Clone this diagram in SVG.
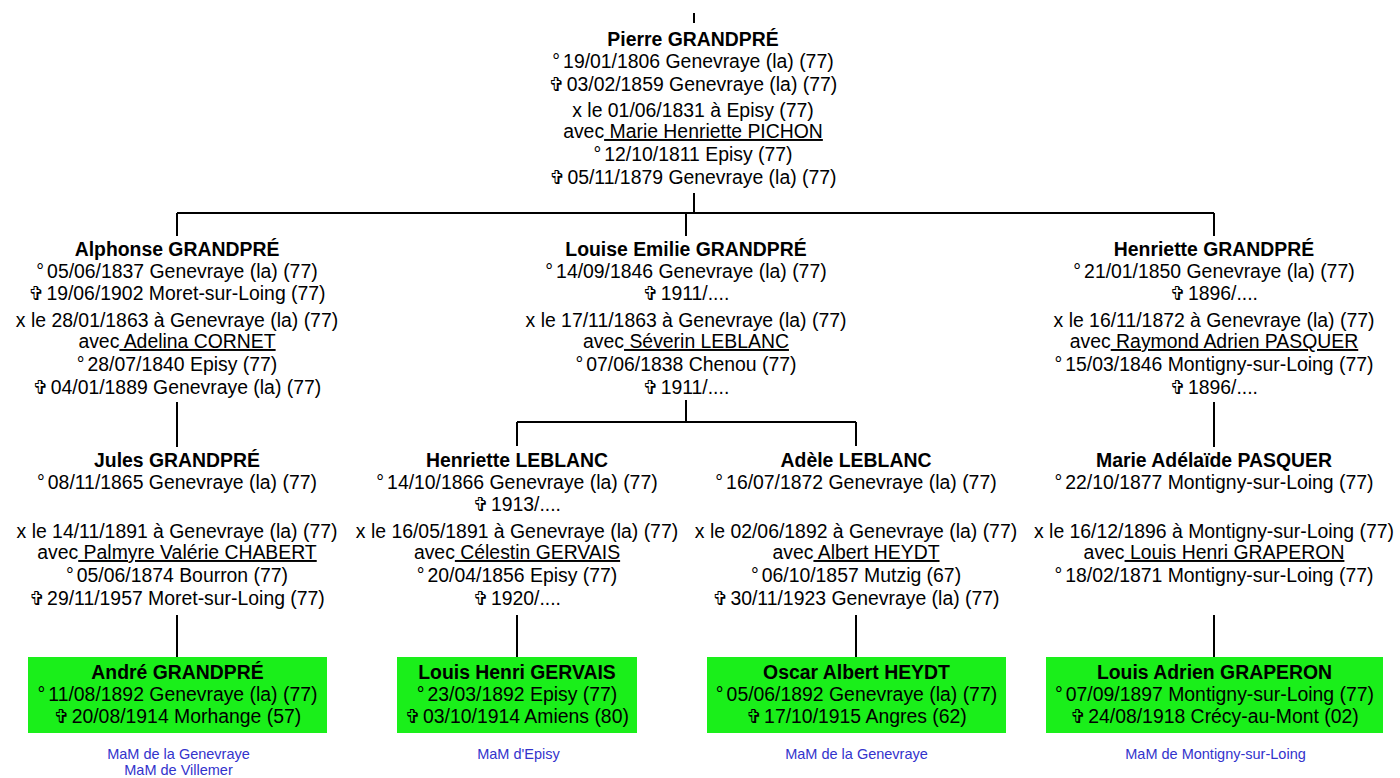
<svg xmlns="http://www.w3.org/2000/svg" width="1400" height="778" viewBox="0 0 1400 778">
<style>
.t{font-family:"Liberation Sans",Arial,"DejaVu Sans",sans-serif;font-size:19.4px;text-anchor:middle;fill:#000}
.b{font-weight:bold}
.c{font-family:"DejaVu Sans",sans-serif;font-size:19px}
.u{text-decoration:underline}
.m{font-family:"Liberation Sans",Arial,sans-serif;font-size:14.5px;text-anchor:middle;fill:#3333cc}
.box{fill:#1aef1a}
.ln{stroke:#000;stroke-width:2;fill:none}
</style>
<rect width="1400" height="778" fill="#fff"/>
<g id="connectors" class="ln">
<path d="M694 13V23M694 193V213M177 213H1214M177 213V236M686 213V236M1214 213V236"/>
<path d="M177 402V447M1214 402V447M686 400V422M517 422H856M517 422V446M856 422V446"/>
<path d="M177 615V657M517 615V657M856 615V657M1214 615V657"/>
</g>
<g id="pierre" class="t">
<text x="693" y="46" class="b">Pierre GRANDPRÉ</text>
<text x="693" y="68">°<tspan dx="3">19/01/1806 Genevraye (la) (77)</tspan></text>
<text x="693" y="91"><tspan class="c">✞</tspan><tspan dx="2">03/02/1859 Genevraye (la) (77)</tspan></text>
<text x="693" y="117">x le 01/06/1831 à Episy (77)</text>
<text x="693" y="138">avec<tspan class="u"> Marie Henriette PICHON</tspan></text>
<text x="693" y="161">°<tspan dx="3">12/10/1811 Episy (77)</tspan></text>
<text x="693" y="184"><tspan class="c">✞</tspan><tspan dx="2">05/11/1879 Genevraye (la) (77)</tspan></text>
</g>
<g id="alphonse" class="t">
<text x="177" y="256" class="b">Alphonse GRANDPRÉ</text>
<text x="177" y="278">°<tspan dx="3">05/06/1837 Genevraye (la) (77)</tspan></text>
<text x="177" y="300"><tspan class="c">✞</tspan><tspan dx="2">19/06/1902 Moret-sur-Loing (77)</tspan></text>
<text x="177" y="327">x le 28/01/1863 à Genevraye (la) (77)</text>
<text x="177" y="348">avec<tspan class="u"> Adelina CORNET</tspan></text>
<text x="177" y="371">°<tspan dx="3">28/07/1840 Episy (77)</tspan></text>
<text x="177" y="394"><tspan class="c">✞</tspan><tspan dx="2">04/01/1889 Genevraye (la) (77)</tspan></text>
</g>
<g id="louise" class="t">
<text x="686" y="256" class="b">Louise Emilie GRANDPRÉ</text>
<text x="686" y="278">°<tspan dx="3">14/09/1846 Genevraye (la) (77)</tspan></text>
<text x="686" y="300"><tspan class="c">✞</tspan><tspan dx="2">1911/....</tspan></text>
<text x="686" y="327">x le 17/11/1863 à Genevraye (la) (77)</text>
<text x="686" y="348">avec<tspan class="u"> Séverin LEBLANC</tspan></text>
<text x="686" y="371">°<tspan dx="3">07/06/1838 Chenou (77)</tspan></text>
<text x="686" y="394"><tspan class="c">✞</tspan><tspan dx="2">1911/....</tspan></text>
</g>
<g id="henriette-g" class="t">
<text x="1214" y="256" class="b">Henriette GRANDPRÉ</text>
<text x="1214" y="278">°<tspan dx="3">21/01/1850 Genevraye (la) (77)</tspan></text>
<text x="1214" y="300"><tspan class="c">✞</tspan><tspan dx="2">1896/....</tspan></text>
<text x="1214" y="327">x le 16/11/1872 à Genevraye (la) (77)</text>
<text x="1214" y="348">avec<tspan class="u"> Raymond Adrien PASQUER</tspan></text>
<text x="1214" y="371">°<tspan dx="3">15/03/1846 Montigny-sur-Loing (77)</tspan></text>
<text x="1214" y="394"><tspan class="c">✞</tspan><tspan dx="2">1896/....</tspan></text>
</g>
<g id="jules" class="t">
<text x="177" y="467" class="b">Jules GRANDPRÉ</text>
<text x="177" y="489">°<tspan dx="3">08/11/1865 Genevraye (la) (77)</tspan></text>
<text x="177" y="538">x le 14/11/1891 à Genevraye (la) (77)</text>
<text x="177" y="559">avec<tspan class="u"> Palmyre Valérie CHABERT</tspan></text>
<text x="177" y="582">°<tspan dx="3">05/06/1874 Bourron (77)</tspan></text>
<text x="177" y="605"><tspan class="c">✞</tspan><tspan dx="2">29/11/1957 Moret-sur-Loing (77)</tspan></text>
</g>
<g id="henriette-l" class="t">
<text x="517" y="467" class="b">Henriette LEBLANC</text>
<text x="517" y="489">°<tspan dx="3">14/10/1866 Genevraye (la) (77)</tspan></text>
<text x="517" y="511"><tspan class="c">✞</tspan><tspan dx="2">1913/....</tspan></text>
<text x="517" y="538">x le 16/05/1891 à Genevraye (la) (77)</text>
<text x="517" y="559">avec<tspan class="u"> Célestin GERVAIS</tspan></text>
<text x="517" y="582">°<tspan dx="3">20/04/1856 Episy (77)</tspan></text>
<text x="517" y="605"><tspan class="c">✞</tspan><tspan dx="2">1920/....</tspan></text>
</g>
<g id="adele" class="t">
<text x="856" y="467" class="b">Adèle LEBLANC</text>
<text x="856" y="489">°<tspan dx="3">16/07/1872 Genevraye (la) (77)</tspan></text>
<text x="856" y="538">x le 02/06/1892 à Genevraye (la) (77)</text>
<text x="856" y="559">avec<tspan class="u"> Albert HEYDT</tspan></text>
<text x="856" y="582">°<tspan dx="3">06/10/1857 Mutzig (67)</tspan></text>
<text x="856" y="605"><tspan class="c">✞</tspan><tspan dx="2">30/11/1923 Genevraye (la) (77)</tspan></text>
</g>
<g id="marie-adelaide" class="t">
<text x="1214" y="467" class="b">Marie Adélaïde PASQUER</text>
<text x="1214" y="489">°<tspan dx="3">22/10/1877 Montigny-sur-Loing (77)</tspan></text>
<text x="1214" y="538">x le 16/12/1896 à Montigny-sur-Loing (77)</text>
<text x="1214" y="559">avec<tspan class="u"> Louis Henri GRAPERON</tspan></text>
<text x="1214" y="582">°<tspan dx="3">18/02/1871 Montigny-sur-Loing (77)</tspan></text>
</g>
<g id="andre" class="t">
<rect class="box" x="28" y="657" width="299" height="76"/>
<text x="177.5" y="679" class="b">André GRANDPRÉ</text>
<text x="177.5" y="701">°<tspan dx="3">11/08/1892 Genevraye (la) (77)</tspan></text>
<text x="177.5" y="723"><tspan class="c">✞</tspan><tspan dx="2">20/08/1914 Morhange (57)</tspan></text>
<text x="178.5" y="759" class="m">MaM de la Genevraye</text>
<text x="178.5" y="775" class="m">MaM de Villemer</text>
</g>
<g id="louis-henri" class="t">
<rect class="box" x="397" y="657" width="240" height="76"/>
<text x="517" y="679" class="b">Louis Henri GERVAIS</text>
<text x="517" y="701">°<tspan dx="3">23/03/1892 Episy (77)</tspan></text>
<text x="517" y="723"><tspan class="c">✞</tspan><tspan dx="2">03/10/1914 Amiens (80)</tspan></text>
<text x="518.5" y="759" class="m">MaM d'Episy</text>
</g>
<g id="oscar" class="t">
<rect class="box" x="707" y="657" width="299" height="76"/>
<text x="856.5" y="679" class="b">Oscar Albert HEYDT</text>
<text x="856.5" y="701">°<tspan dx="3">05/06/1892 Genevraye (la) (77)</tspan></text>
<text x="856.5" y="723"><tspan class="c">✞</tspan><tspan dx="2">17/10/1915 Angres (62)</tspan></text>
<text x="856.5" y="759" class="m">MaM de la Genevraye</text>
</g>
<g id="louis-adrien" class="t">
<rect class="box" x="1046" y="657" width="337" height="76"/>
<text x="1214.5" y="679" class="b">Louis Adrien GRAPERON</text>
<text x="1214.5" y="701">°<tspan dx="3">07/09/1897 Montigny-sur-Loing (77)</tspan></text>
<text x="1214.5" y="723"><tspan class="c">✞</tspan><tspan dx="2">24/08/1918 Crécy-au-Mont (02)</tspan></text>
<text x="1215.5" y="759" class="m">MaM de Montigny-sur-Loing</text>
</g>
</svg>
